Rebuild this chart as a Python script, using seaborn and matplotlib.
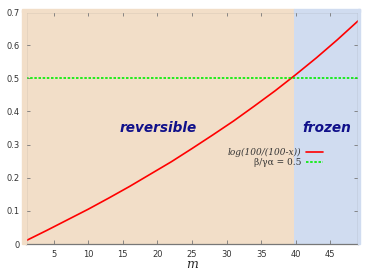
import numpy as np
import pandas as pd
import seaborn as sns
import matplotlib.pyplot as plt
from matplotlib.patches import Rectangle

# values
m_vals = [1, 4, 7, 10, 13, 16, 19, 22, 25, 28, 31, 34, 37, 40, 43, 46, 49]
curve_vals = [0.010, 0.041, 0.073, 0.105, 0.139, 0.174, 0.211, 0.248, 0.288,
              0.329, 0.371, 0.416, 0.462, 0.511, 0.562, 0.616, 0.673]
ratio_level = 0.5
boundary_m = 39.8
x_ticks = [5, 10, 15, 20, 25, 30, 35, 40, 45]
y_ticks = [0, 0.1, 0.2, 0.3, 0.4, 0.5, 0.6, 0.7]
y_tick_labels = ["0", "0.1", "0.2", "0.3", "0.4", "0.5", "0.6", "0.7"]

peach = "#f2dec8"
blue = "#d0dcf0"

sns.set_style("ticks")
fig = plt.figure(figsize=(3.82, 2.73), dpi=100)
ax = fig.add_axes([26 / 382, 29 / 273, 332 / 382, 232 / 273])

df = pd.DataFrame({"m": m_vals, "v": curve_vals})
level = pd.DataFrame({"m": [1, 49], "v": [ratio_level, ratio_level]})

# shaded background, a little larger than the axes
edge_x = 26 + (boundary_m - 1) / 48 * 332
fig.patches.append(Rectangle((22 / 382, 29 / 273), 4 / 382, 234 / 273,
                             transform=fig.transFigure, color=peach, zorder=0))
fig.patches.append(Rectangle((22 / 382, 261 / 273), (edge_x - 22) / 382, 3 / 273,
                             transform=fig.transFigure, color=peach, zorder=0))
fig.patches.append(Rectangle((edge_x / 382, 261 / 273), (360 - edge_x) / 382, 3 / 273,
                             transform=fig.transFigure, color=blue, zorder=0))
fig.patches.append(Rectangle((358 / 382, 29 / 273), 2 / 382, 235 / 273,
                             transform=fig.transFigure, color=blue, zorder=0))
ax.axvspan(1, boundary_m, color=peach, lw=0, zorder=0)
ax.axvspan(boundary_m, 49, color=blue, lw=0, zorder=0)

sns.lineplot(data=df, x="m", y="v", ax=ax, color="#ff0000", lw=1.2,
             label="log(100/(100-x))")
sns.lineplot(data=level, x="m", y="v", ax=ax, color="#00ee00", lw=1.2,
             linestyle=(0, (1.5, 1)), label=r"β/γα = 0.5")

ax.set_xlim(1, 49)
ax.set_ylim(0, 0.7)
ax.set_xticks(x_ticks)
ax.set_yticks(y_ticks)
ax.set_yticklabels(y_tick_labels)
ax.tick_params(direction="in", length=3, width=0.6, color="#777777",
               labelsize=6, labelcolor="#333333", top=True, right=True, pad=4.5)
for s in ax.spines.values():
    s.set_color("#777777")
    s.set_linewidth(0.9)
ax.set_xlabel("m", fontsize=9, style="italic", family="DejaVu Serif", labelpad=-1)
ax.set_ylabel("")

ax.text(20.1, 0.351, "reversible", fontsize=9.8, weight="bold", style="italic",
        color="#10108a", ha="center", va="center")
ax.text(44.5, 0.351, "frozen", fontsize=9.8, weight="bold", style="italic",
        color="#10108a", ha="center", va="center")

leg = ax.legend(loc="center", bbox_to_anchor=(0.752, 0.372), frameon=False,
                markerfirst=False, handlelength=1.9, handletextpad=0.5,
                labelspacing=0.1, prop={"family": "DejaVu Serif", "size": 6.5,
                                        "style": "italic"})
for t in leg.get_texts():
    t.set_color("#333333")
leg.get_texts()[1].set_fontstyle("normal")

fig.savefig("out.png", dpi=100)
